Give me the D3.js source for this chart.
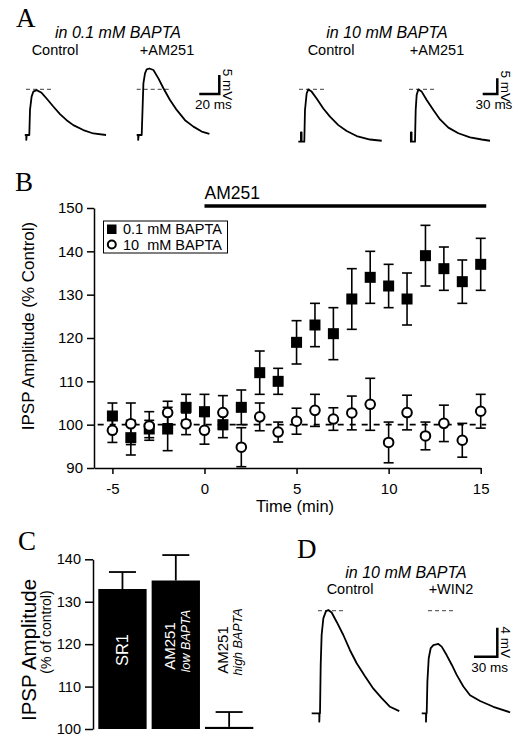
<!DOCTYPE html>
<html><head><meta charset="utf-8">
<script src="https://cdn.jsdelivr.net/npm/d3@7/dist/d3.min.js"></script>
<style>
body{margin:0;background:#fff;}
text{font-family:Arial,"Liberation Sans",sans-serif;fill:#000;}
.serif{font-family:"Times New Roman","Liberation Serif",serif;}
</style></head>
<body>
<script>
// ---------- Panel B data ----------
const times = [-5,-4,-3,-2,-1,0,1,2,3,4,5,6,7,8,9,10,11,12,13,14,15];
const lowBapta = [102,97,99,99,104,103,100,104,112,110,119,123,121,129,134,132,129,139,136,133,137];
const lowBaptaErr = [3,4,2,5,3,4,3,4,5,3,5,5,6,7,6,5,6,7,5,5,6];
const highBapta = [98.7,100.2,99.7,102.8,100.2,98.7,102.8,94.8,101.8,98.3,100.8,103.3,101.3,102.7,104.7,95.9,102.8,97.4,100.3,96.4,103.1];
const highBaptaErr = [2.8,4.8,3.3,2.6,2.5,3.2,3.9,4.5,3.2,2.3,3,3.7,2.6,3.9,6,4.7,4,3.2,4.2,3.9,3.9];
const bYTicks = [90,100,110,120,130,140,150];
const bXTicks = [-5,0,5,10,15];
const drugPeriod = [0,15.3];
const refSpan = [-5.8,15.3];
const legendLabels = ["0.1 mM BAPTA","10  mM BAPTA"];

// ---------- Panel C data ----------
const cCats = ["SR1","AM251 low","AM251 high"];
const cValues = [133,135,100.5];
const cErr = [4,6,3.5];
const cTicks = [100,110,120,130,140];

// ---------- Traces (ms, mV) ----------
const aLowCtrl = [[-4.5,0],[-3,0],[-3,-1.3],[-2.6,0],[0,0],[0.7,6.6],[2.3,10.1],[4,11.4],[7.3,11.8],[12.3,11.1],[17.3,9.6],[24,7.5],[30.7,5.5],[37.3,3.9],[44,2.6],[54,1.3],[64,0.4],[76.7,0]];
const aLowAM = [[-5,0],[-3.5,0],[-3.5,-1.3],[-3,0],[0,0],[1.7,13.6],[3.3,16.2],[5,17.3],[7.7,17.5],[11.7,17.1],[16.7,14.9],[21.7,12.3],[28.3,9.2],[35,6.6],[43.3,3.9],[51.7,2.2],[60,0.9],[67.7,0.3]];
const aHighCtrl = [[-12.3,0],[-7,0],[-7,3],[-5.5,3],[-5.5,0],[0,0],[1.4,10.1],[4.8,15.4],[8.2,16.7],[15,16],[25.3,13.8],[39,10.6],[52.7,8],[69.9,5.3],[87,3.4],[107.5,1.8],[135,0.7],[159,0.3]];
const aHighAM = [[-10.3,0],[-8.5,0],[-8.5,3],[-7,3],[-7,0],[0,0],[1.4,10.1],[3.4,14.9],[6.8,16.7],[13.7,16],[24,13.3],[37.7,10.1],[51.4,7.1],[68.5,4.5],[89,2.7],[113,1.4],[137,0.7],[154,0.3]];
const dCtrl = [[-10.7,0],[-0.9,0],[-0.9,-1.15],[-0.5,0],[0,0],[0.9,6.7],[2.1,10.8],[4.3,13.1],[7.7,14.1],[10.7,14.25],[15,13.9],[21.5,12.6],[30,10.8],[38.6,8.7],[47.2,6.9],[57.9,5.1],[68.7,3.4],[79.4,2.1],[90.1,0.9],[102,0.3]];
const dWin = [[-6.4,0],[-0.9,0],[-0.9,-1.15],[-0.5,0],[0,0],[0.9,4.4],[2.6,7.6],[5.2,9.0],[8.6,9.4],[15,9.56],[19.3,9.2],[25.8,8.0],[32.2,6.7],[38.6,5.3],[47.2,3.7],[55.8,2.5],[68.7,1.7],[85.8,0.9],[107.3,0.14]];
// dashed reference level (mV) and span (ms) for each trace
const aLowDash = {level:12, ctrl:[-3.3,22.4], drug:[-5,29]};
const aHighDash = {level:16.7, ctrl:[-10.9,44.6], drug:[-12.3,43]};
const dDash = {level:14.15, ctrl:[-2.6,29.6], drug:[1.7,36.4]};
// scale bars: [ms, mV]
const aLowBar = [20,5];
const aHighBar = [30,5];
const dBar = [30,4];

const svg = d3.select("body").append("svg").attr("width",525).attr("height",746);

function txt(g,x,y,s,size,opts={}){
  const t = g.append("text").attr("x",x).attr("y",y).text(s).attr("font-size",size);
  if(opts.anchor) t.attr("text-anchor",opts.anchor);
  if(opts.italic) t.attr("font-style","italic");
  if(opts.cls) t.attr("class",opts.cls);
  if(opts.rot) t.attr("transform",`rotate(${opts.rot},${x},${y})`);
  if(opts.fill) t.style("fill",opts.fill);
  if(opts.pre) t.style("white-space","pre");
  return t;
}

// ---------- trace helper ----------
function tracePair(cfg){
  const g = svg.append("g");
  [[cfg.ctrl,cfg.ctrlOnset,cfg.dash.ctrl],[cfg.drug,cfg.drugOnset,cfg.dash.drug]].forEach(([data,onset,span])=>{
    const x = d3.scaleLinear().domain([0,1]).range([onset,onset+cfg.pxPerMs]);
    const y = d3.scaleLinear().domain([0,1]).range([cfg.base,cfg.base-cfg.pxPerMv]);
    g.append("line").attr("x1",x(span[0])).attr("x2",x(span[1]))
      .attr("y1",y(cfg.dash.level)).attr("y2",y(cfg.dash.level))
      .attr("stroke","#666").attr("stroke-width",1.3).attr("stroke-dasharray","4,3");
    g.append("path").datum(data)
      .attr("d",d3.line().x(d=>x(d[0])).y(d=>y(d[1])).curve(d3.curveLinear))
      .attr("fill","none").attr("stroke","#000").attr("stroke-width",1.8).attr("stroke-linejoin","round");
  });
  // scale bar
  const sx = d3.scaleLinear().domain([0,1]).range([0,cfg.pxPerMs]);
  const sy = d3.scaleLinear().domain([0,1]).range([0,cfg.pxPerMv]);
  const [cx,cy] = cfg.barCorner;
  g.append("path").attr("d",`M${cx-sx(cfg.bar[0])},${cy}H${cx}V${cy-sy(cfg.bar[1])}`)
    .attr("fill","none").attr("stroke","#000").attr("stroke-width",2.5);
  txt(g,cx+4,cy-sy(cfg.bar[1])/2,`${cfg.bar[1]} mV`,13.5,{anchor:"middle",rot:90});
  txt(g,cx-sx(cfg.bar[0])/2+4,cy+15,`${cfg.bar[0]} ms`,13.5,{anchor:"middle"});
}

// ---------- Panel A ----------
const gA = svg.append("g");
txt(gA,16,27,"A",27,{cls:"serif"});
txt(gA,118,38,"in 0.1 mM BAPTA",16,{anchor:"middle",italic:true});
txt(gA,55,55,"Control",14.5,{anchor:"middle"});
txt(gA,167,55,"+AM251",14.5,{anchor:"middle"});
txt(gA,387,38,"in 10 mM BAPTA",16,{anchor:"middle",italic:true});
txt(gA,331,55,"Control",14.5,{anchor:"middle"});
txt(gA,437,55,"+AM251",14.5,{anchor:"middle"});
tracePair({ctrl:aLowCtrl,drug:aLowAM,ctrlOnset:29.3,drugOnset:141.7,base:135,pxPerMs:1.0,pxPerMv:3.8,dash:aLowDash,bar:aLowBar,barCorner:[219.3,94]});
tracePair({ctrl:aHighCtrl,drug:aHighAM,ctrlOnset:304.3,drugOnset:415,base:141.7,pxPerMs:0.487,pxPerMv:3.13,dash:aHighDash,bar:aHighBar,barCorner:[497.3,94]});

// ---------- Panel B ----------
const gB = svg.append("g");
txt(gB,15,191,"B",27,{cls:"serif"});
const xB = d3.scaleLinear().domain([-6,15]).range([94,480.7]);
const yB = d3.scaleLinear().domain([90,150]).range([468,208]);
const axY = gB.append("g").attr("transform","translate(94,0)")
  .call(d3.axisLeft(yB).tickValues(bYTicks).tickSize(7).tickPadding(4).tickSizeOuter(0).tickFormat(d=>String(d)));
const axX = gB.append("g").attr("transform","translate(0,468)")
  .call(d3.axisBottom(xB).tickValues(bXTicks).tickSize(6).tickPadding(9).tickSizeOuter(0).tickFormat(d=>String(d)));
[axY,axX].forEach(a=>{a.selectAll("path,line").attr("stroke","#000").attr("stroke-width",1.5);
  a.selectAll("text").attr("font-size",15).attr("font-family","Arial,'Liberation Sans',sans-serif");});
txt(gB,295,512,"Time (min)",16.5,{anchor:"middle"});
txt(gB,34,326,"IPSP Amplitude (% Control)",17,{anchor:"middle",rot:-90});
// drug bar
gB.append("line").attr("x1",xB(drugPeriod[0])).attr("x2",xB(drugPeriod[1])).attr("y1",206).attr("y2",206)
  .attr("stroke","#000").attr("stroke-width",3.5);
txt(gB,xB(drugPeriod[0]),199,"AM251",17.5);
// reference dashed line
gB.append("line").attr("x1",xB(refSpan[0])).attr("x2",xB(refSpan[1])).attr("y1",yB(100)).attr("y2",yB(100))
  .attr("stroke","#000").attr("stroke-width",1.8).attr("stroke-dasharray","6,6");
function errBars(vals,errs){
  const g = gB.append("g").attr("stroke","#000").attr("stroke-width",1.6);
  times.forEach((t,i)=>{
    const x = xB(t), y1 = yB(vals[i]-errs[i]), y2 = yB(vals[i]+errs[i]);
    g.append("line").attr("x1",x).attr("x2",x).attr("y1",y1).attr("y2",y2);
    g.append("line").attr("x1",x-5).attr("x2",x+5).attr("y1",y1).attr("y2",y1);
    g.append("line").attr("x1",x-5).attr("x2",x+5).attr("y1",y2).attr("y2",y2);
  });
}
errBars(lowBapta,lowBaptaErr);
gB.append("g").selectAll("rect").data(times).join("rect")
  .attr("x",(d)=>xB(d)-5.5).attr("y",(d,i)=>yB(lowBapta[i])-5.5).attr("width",11).attr("height",11).attr("fill","#000");
errBars(highBapta,highBaptaErr);
gB.append("g").selectAll("circle").data(times).join("circle")
  .attr("cx",d=>xB(d)).attr("cy",(d,i)=>yB(highBapta[i])).attr("r",4.8)
  .attr("fill","#fff").attr("stroke","#000").attr("stroke-width",2);
// legend
const lg = gB.append("g");
lg.append("rect").attr("x",103.5).attr("y",221).attr("width",124).attr("height",32).attr("fill","#fff").attr("stroke","#000").attr("stroke-width",1);
lg.append("rect").attr("x",107).attr("y",224.5).attr("width",9.5).attr("height",9.5).attr("fill","#000");
lg.append("circle").attr("cx",111.8).attr("cy",244.5).attr("r",4).attr("fill","#fff").attr("stroke","#000").attr("stroke-width",2);
txt(lg,123,234,legendLabels[0],14.5);
txt(lg,123,250,legendLabels[1],14.5,{pre:true});

// ---------- Panel C ----------
const gC = svg.append("g");
txt(gC,18,550,"C",27,{cls:"serif"});
const yC = d3.scaleLinear().domain([100,140]).range([729,559.3]);
const xC = d3.scaleBand().domain(cCats).range([98.3,253.3]).paddingInner(0.094).paddingOuter(0);
const axC = gC.append("g").attr("transform","translate(93,0)")
  .call(d3.axisLeft(yC).tickValues(cTicks).tickSize(8).tickPadding(4).tickSizeOuter(0).tickFormat(d=>String(d)));
axC.selectAll("path,line").attr("stroke","#000").attr("stroke-width",1.5);
axC.selectAll("text").attr("font-size",14.5).attr("font-family","Arial,'Liberation Sans',sans-serif");
gC.selectAll("rect.bar").data(cCats).join("rect").attr("class","bar")
  .attr("x",d=>xC(d)).attr("width",xC.bandwidth())
  .attr("y",(d,i)=>yC(cValues[i])).attr("height",(d,i)=>yC(100)-yC(cValues[i])).attr("fill","#000");
const eg = gC.append("g").attr("stroke","#000").attr("stroke-width",1.8);
cCats.forEach((c,i)=>{
  const x = xC(c)+xC.bandwidth()/2;
  eg.append("line").attr("x1",x).attr("x2",x).attr("y1",yC(cValues[i])).attr("y2",yC(cValues[i]+cErr[i]));
  eg.append("line").attr("x1",x-13.5).attr("x2",x+13.5).attr("y1",yC(cValues[i]+cErr[i])).attr("y2",yC(cValues[i]+cErr[i]));
});
txt(gC,35.5,650,"IPSP Amplitude",20.5,{anchor:"middle",rot:-90});
txt(gC,51,632,"(% of control)",14,{anchor:"middle",rot:-90});
const c0 = xC(cCats[0]), c1 = xC(cCats[1]), c2 = xC(cCats[2]);
txt(gC,c0+30,650,"SR1",16.5,{anchor:"middle",rot:-90,fill:"#fff"});
txt(gC,c1+23,646,"AM251",15,{anchor:"middle",rot:-90,fill:"#fff"});
txt(gC,c1+38,641,"low BAPTA",12.5,{anchor:"middle",rot:-90,fill:"#fff",italic:true});
txt(gC,c2+23,650,"AM251",15,{anchor:"middle",rot:-90});
txt(gC,c2+37,642,"high BAPTA",12.5,{anchor:"middle",rot:-90,italic:true});

// ---------- Panel D ----------
const gD = svg.append("g");
txt(gD,297,558,"D",27,{cls:"serif"});
txt(gD,406,578,"in 10 mM BAPTA",16,{anchor:"middle",italic:true});
txt(gD,350,594,"Control",14.5,{anchor:"middle"});
txt(gD,451,594,"+WIN2",14.5,{anchor:"middle"});
tracePair({ctrl:dCtrl,drug:dWin,ctrlOnset:320,drugOnset:426.7,base:713.3,pxPerMs:0.777,pxPerMv:7.25,dash:dDash,bar:dBar,barCorner:[497.3,656.7]});
</script>
</body></html>
